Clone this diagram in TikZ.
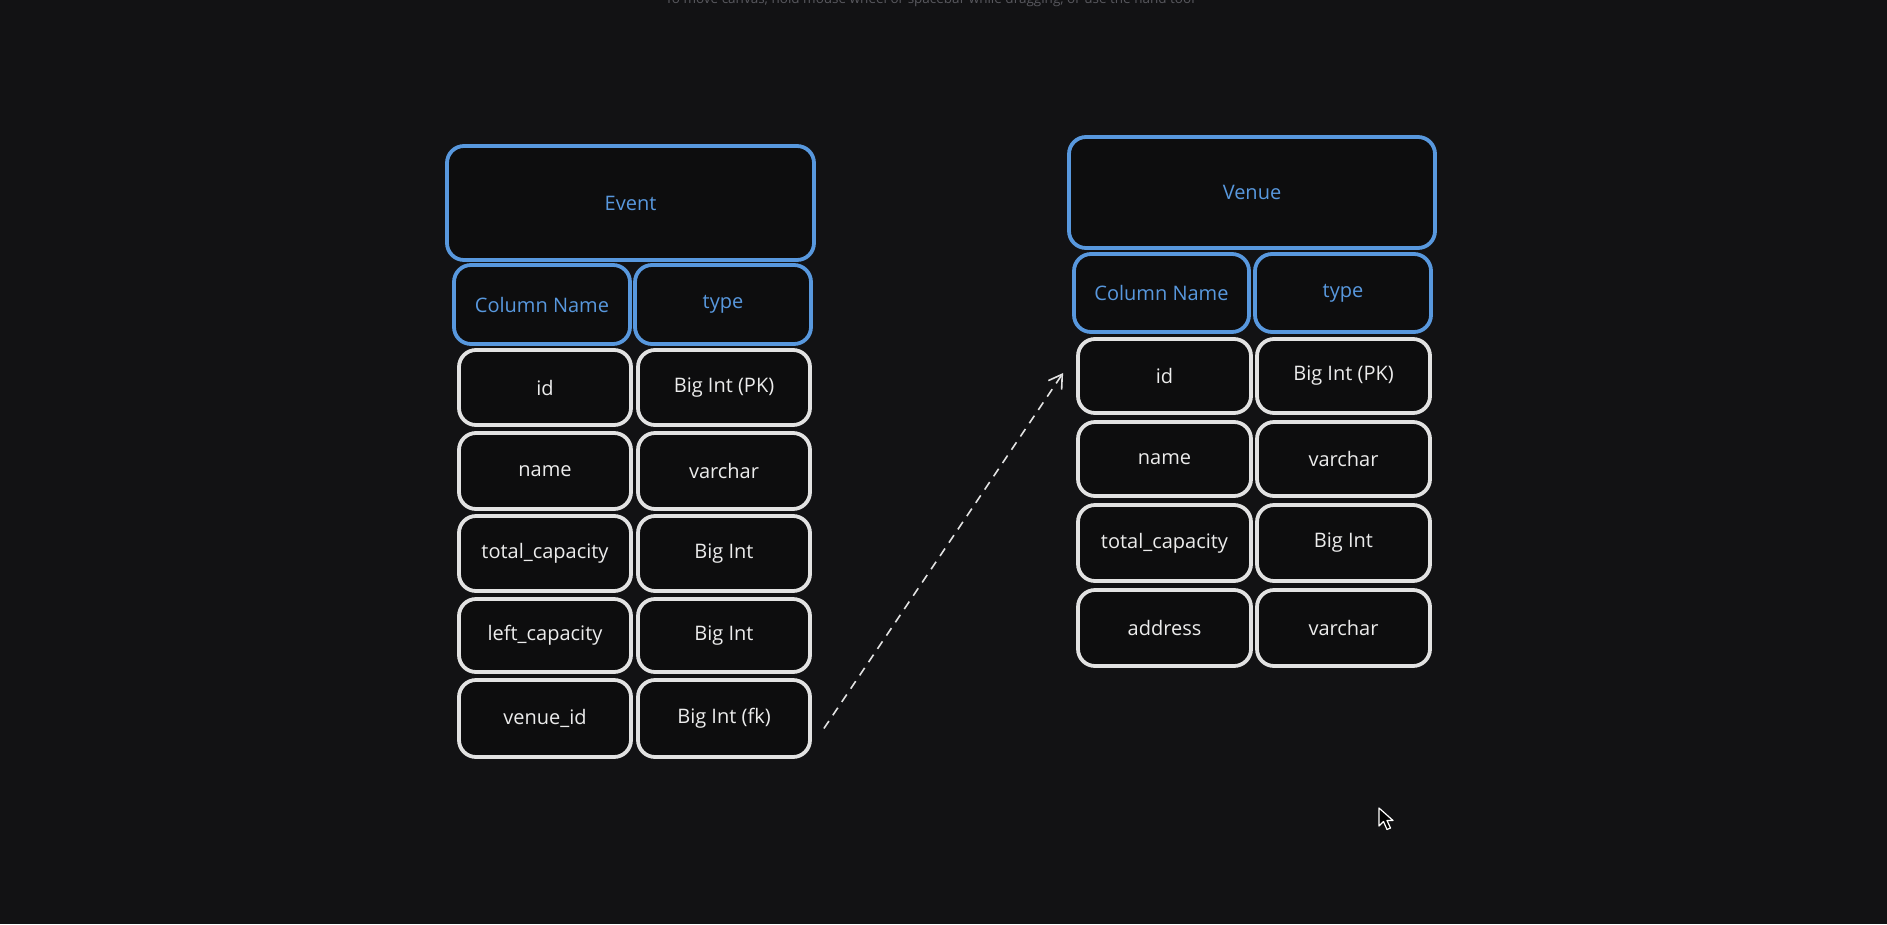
\documentclass[tikz,border=0pt]{standalone}
\usepackage{fontspec}
\setmainfont{Open Sans}
\usetikzlibrary{arrows.meta}
\definecolor{bgc}{RGB}{18,18,20}
\definecolor{cellfill}{RGB}{13,13,14}
\definecolor{hblue}{RGB}{88,152,222}
\definecolor{cellline}{RGB}{226,226,226}
\definecolor{celltext}{RGB}{236,236,236}
\definecolor{hinttext}{RGB}{88,88,94}
\tikzset{
  cellbase/.style={rectangle, rounded corners=17pt, line width=3.8pt, fill=cellfill, inner sep=0pt,
    font=\fontsize{20}{24}\selectfont},
  hcell/.style={cellbase, draw=hblue, text=hblue},
  dcell/.style={cellbase, draw=cellline, text=celltext},
  relarrow/.style={draw=cellline, line width=1.6pt, dash pattern=on 9pt off 7pt,
    -{Straight Barb[length=13pt,width=16pt,line width=1.6pt]}},
}
\begin{document}
\begin{tikzpicture}[x=1pt,y=-1pt]
\fill[bgc] (0,0) rectangle (1887,924);
\useasboundingbox (0,0) rectangle (1887,924);
% hint text at the top (cut by the page edge, as in the reference)
\node[text=hinttext, font=\fontsize{13.5}{16}\selectfont, anchor=base] (hint) at (930,3.5)
  {To move canvas, hold mouse wheel or spacebar while dragging, or use the hand tool};
% ---------- Event table ----------
\node[hcell, minimum width=367, minimum height=114] (evhdr) at (630.5,203) {Event};
\node[hcell, minimum width=176, minimum height=79] (evcn) at (542,304.5) {Column Name};
\node[hcell, minimum width=176, minimum height=79] (evty) at (723,304.5) {\raisebox{-2pt}{type}};
\node[dcell, minimum width=172, minimum height=75] (evid) at (545,387.5) {id};
\node[dcell, minimum width=172, minimum height=75] (evidt) at (724,387.5) {\raisebox{-1pt}{Big Int (PK)}};
\node[dcell, minimum width=172, minimum height=76] (evnm) at (545,471) {name};
\node[dcell, minimum width=172, minimum height=76] (evnmt) at (724,471) {varchar};
\node[dcell, minimum width=172, minimum height=75] (evtc) at (545,553.5) {total\_capacity};
\node[dcell, minimum width=172, minimum height=75] (evtct) at (724,553.5) {\raisebox{-1pt}{Big Int}};
\node[dcell, minimum width=172, minimum height=73] (evlc) at (545,635.5) {left\_capacity};
\node[dcell, minimum width=172, minimum height=73] (evlct) at (724,635.5) {\raisebox{-1pt}{Big Int}};
\node[dcell, minimum width=172, minimum height=77] (evvid) at (545,718.5) {venue\_id};
\node[dcell, minimum width=172, minimum height=77] (evvidt) at (724,718.5) {Big Int (fk)};
% ---------- Venue table ----------
\node[hcell, minimum width=366, minimum height=111] (vehdr) at (1252,192.5) {Venue};
\node[hcell, minimum width=175, minimum height=78] (vecn) at (1161.5,293) {Column Name};
\node[hcell, minimum width=176, minimum height=78] (vety) at (1343,293) {\raisebox{-2pt}{type}};
\node[dcell, minimum width=173, minimum height=74] (veid) at (1164.5,376) {id};
\node[dcell, minimum width=173, minimum height=74] (veidt) at (1343.5,376) {\raisebox{-1pt}{Big Int (PK)}};
\node[dcell, minimum width=173, minimum height=74] (venm) at (1164.5,459) {name};
\node[dcell, minimum width=173, minimum height=74] (venmt) at (1343.5,459) {varchar};
\node[dcell, minimum width=173, minimum height=76] (vetc) at (1164.5,543) {total\_capacity};
\node[dcell, minimum width=173, minimum height=76] (vetct) at (1343.5,543) {\raisebox{-1pt}{Big Int}};
\node[dcell, minimum width=173, minimum height=76] (vead) at (1164.5,628) {address};
\node[dcell, minimum width=173, minimum height=76] (veadt) at (1343.5,628) {varchar};
% ---------- relation arrow ----------
\coordinate (relstart) at ([shift={(12,10)}]evvidt.east);
\coordinate (relend) at ([shift={(-13,-3)}]veid.west);
\draw[relarrow] (relstart) -- (relend);
% ---------- mouse cursor ----------
\filldraw[fill=black, draw=white, line width=1.2pt, line join=round]
  (1379,808) -- (1379,826) -- (1383.5,821.5) -- (1387,829.5) -- (1390.5,828) -- (1387,820.5) -- (1393,820.5) -- cycle;
\end{tikzpicture}
\end{document}
